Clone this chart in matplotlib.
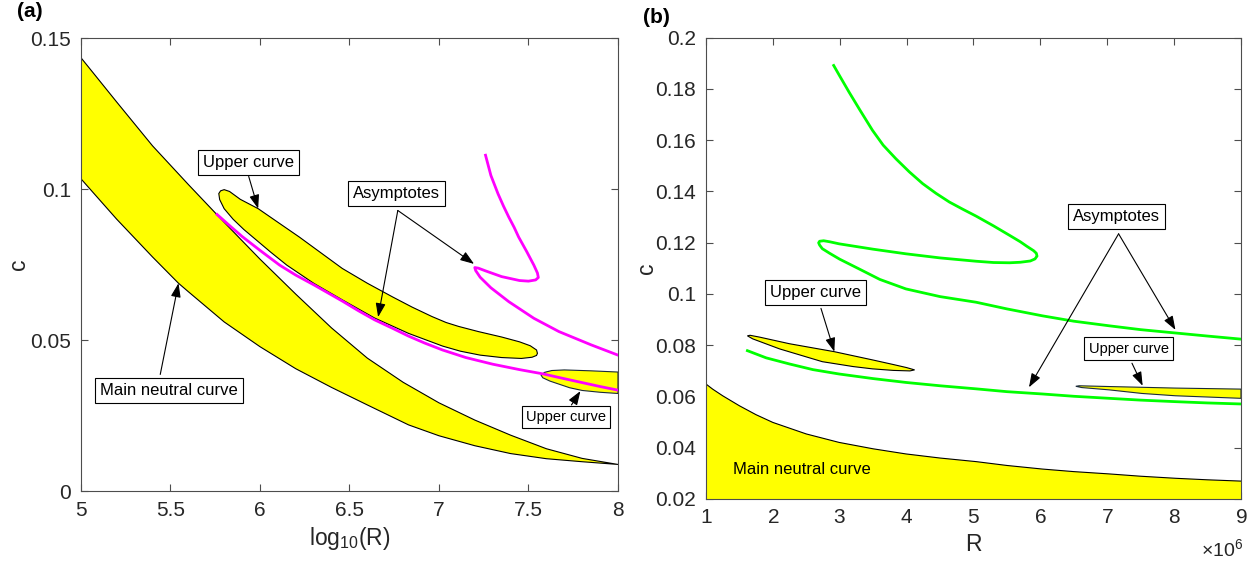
import numpy as np
import matplotlib
matplotlib.use("Agg")
import matplotlib.pyplot as plt
from matplotlib.ticker import ScalarFormatter, FormatStrFormatter

plt.rcParams['font.family'] = ['Liberation Sans', 'DejaVu Sans']
plt.rcParams['mathtext.fontset'] = 'custom'
plt.rcParams['mathtext.rm'] = 'Liberation Sans'
plt.rcParams['mathtext.default'] = 'regular'

AXCOL = '#262626'
SPINE = '#4d4d4d'
YELLOW = '#ffff00'
MAGENTA = '#ff00ff'
GREEN = '#00ff00'

# ---------------------------------------------------------------------------
# (a) c against log10(R)
# ---------------------------------------------------------------------------
a_main_up_x = [5.0, 5.2, 5.4, 5.6, 5.8, 6.0, 6.2, 6.4, 6.6, 6.8, 7.0, 7.2, 7.4, 7.6, 7.8, 8.0]
a_main_up_c = [0.1435, 0.1288, 0.1143, 0.1015, 0.0890, 0.0768, 0.0652, 0.0540,
               0.0440, 0.0360, 0.0292, 0.0235, 0.0185, 0.0140, 0.0108, 0.0088]
a_main_lo_x = [5.0, 5.2, 5.4, 5.545, 5.6, 5.8, 6.0, 6.2, 6.4, 6.6, 6.83, 7.0, 7.2,
               7.4, 7.6, 7.8, 8.0]
a_main_lo_c = [0.1034, 0.0900, 0.0775, 0.0688, 0.0660, 0.0560, 0.0478, 0.0405,
               0.0343, 0.0285, 0.0219, 0.0183, 0.0150, 0.0124, 0.0107, 0.0097, 0.0088]

# first upper-curve island
a_up1_top_x = [5.77, 5.78, 5.80, 5.83, 5.89, 5.99, 6.10, 6.22, 6.34, 6.46, 6.60, 6.74,
               6.85, 6.96, 7.04, 7.11, 7.22, 7.35, 7.45, 7.51, 7.545, 7.55]
a_up1_top_c = [0.0985, 0.0994, 0.0998, 0.0992, 0.0966, 0.0935, 0.0890, 0.0841, 0.0789,
               0.0737, 0.0688, 0.0643, 0.0609, 0.0578, 0.0558, 0.0545, 0.0528, 0.0510,
               0.0494, 0.0481, 0.0467, 0.0456]
a_up1_bot_x = [5.77, 5.775, 5.80, 5.85, 5.91, 5.98, 6.06, 6.15, 6.30, 6.46, 6.64, 6.83,
               7.02, 7.12, 7.23, 7.35, 7.46, 7.52, 7.545]
a_up1_bot_c = [0.0985, 0.0965, 0.0935, 0.0900, 0.0866, 0.0831, 0.0791, 0.0748, 0.0688,
               0.0633, 0.0573, 0.0522, 0.0480, 0.0463, 0.0450, 0.0442, 0.0439, 0.0443,
               0.0449]

# second upper-curve island (cut by the right edge)
a_up2_top_x = [7.57, 7.59, 7.63, 7.70, 7.85, 8.0]
a_up2_top_c = [0.0384, 0.0393, 0.0399, 0.0401, 0.0398, 0.0394]
a_up2_bot_x = [7.57, 7.58, 7.62, 7.67, 7.73, 7.80, 7.90, 8.0]
a_up2_bot_c = [0.0384, 0.0375, 0.0364, 0.0354, 0.0342, 0.0333, 0.0327, 0.0323]

# asymptotes
a_asy1_x = [5.76, 5.83, 5.90, 6.0, 6.11, 6.20, 6.30, 6.46, 6.55, 6.64, 6.74, 6.83,
            6.92, 7.02, 7.15, 7.30, 7.45, 7.58, 7.70, 7.80, 7.90, 8.0]
a_asy1_c = [0.0916, 0.0879, 0.0843, 0.0797, 0.0748, 0.0715, 0.0683, 0.0629, 0.0597,
            0.0567, 0.0539, 0.0513, 0.0490, 0.0467, 0.0442, 0.0420, 0.0402, 0.0388,
            0.0372, 0.0359, 0.0346, 0.0334]
a_asy2_x = [7.26, 7.29, 7.33, 7.36, 7.39, 7.42, 7.445, 7.49, 7.53, 7.55, 7.555, 7.54,
            7.50, 7.45, 7.35, 7.26, 7.22, 7.20, 7.205, 7.23, 7.29, 7.39, 7.53, 7.67,
            7.85, 8.0]
a_asy2_c = [0.1112, 0.1045, 0.0984, 0.0944, 0.0907, 0.0873, 0.0841, 0.0793, 0.0748,
            0.0722, 0.0707, 0.0699, 0.0695, 0.0697, 0.0710, 0.0729, 0.0738, 0.0740,
            0.0730, 0.0708, 0.0673, 0.0627, 0.0572, 0.0528, 0.0484, 0.0450]

a_xticks = [5, 5.5, 6, 6.5, 7, 7.5, 8]
a_yticks = [0, 0.05, 0.1, 0.15]

# ---------------------------------------------------------------------------
# (b) c against R (R in units of 1e6)
# ---------------------------------------------------------------------------
b_main_R = [1.0, 1.1, 1.25, 1.5, 1.75, 2.0, 2.5, 2.99, 3.5, 3.99, 4.5, 5.04, 5.5,
            6.03, 6.5, 7.03, 7.5, 8.02, 8.5, 9.0]
b_main_c = [0.0648, 0.0628, 0.0602, 0.0563, 0.0528, 0.0498, 0.0453, 0.0420, 0.0395,
            0.0375, 0.0359, 0.0345, 0.0330, 0.0316, 0.0306, 0.0297, 0.0288, 0.0280,
            0.0274, 0.0269]

b_up1_top_R = [1.62, 1.66, 1.80, 2.25, 2.92, 3.49, 3.80, 4.0, 4.12]
b_up1_top_c = [0.0836, 0.0838, 0.0831, 0.0805, 0.0774, 0.0742, 0.0724, 0.0712, 0.0703]
b_up1_bot_R = [1.62, 1.70, 2.10, 2.74, 3.20, 3.49, 3.80, 4.05, 4.12]
b_up1_bot_c = [0.0836, 0.0824, 0.0785, 0.0735, 0.0716, 0.0707, 0.0701, 0.0699, 0.0703]

b_up2_top_R = [6.53, 6.58, 7.03, 7.53, 8.02, 9.0]
b_up2_top_c = [0.0639, 0.0641, 0.0638, 0.0635, 0.0632, 0.0628]
b_up2_bot_R = [6.53, 6.62, 7.03, 7.52, 8.02, 9.0]
b_up2_bot_c = [0.0639, 0.0634, 0.0625, 0.0611, 0.0602, 0.0592]

b_asy1_R = [2.91, 3.0, 3.14, 3.3, 3.49, 3.65, 3.84, 4.04, 4.24, 4.44, 4.64, 4.84,
            5.04, 5.30, 5.54, 5.70, 5.80, 5.90, 5.94, 5.95, 5.92, 5.85, 5.70, 5.54,
            5.30, 5.04, 4.5, 3.99, 3.5, 2.99, 2.85, 2.76, 2.70, 2.685, 2.70, 2.74,
            2.85, 3.0, 3.29, 3.6, 3.99, 4.5, 5.04, 5.5, 6.03, 6.5, 7.03, 7.5, 8.02,
            8.5, 9.0]
b_asy1_c = [0.1891, 0.1850, 0.1787, 0.1718, 0.1638, 0.1580, 0.1527, 0.1476, 0.1430,
            0.1392, 0.1358, 0.1330, 0.1303, 0.1265, 0.1228, 0.1203, 0.1185, 0.1168,
            0.1158, 0.1147, 0.1136, 0.1128, 0.1123, 0.1121, 0.1122, 0.1127, 0.1140,
            0.1156, 0.1174, 0.1195, 0.1203, 0.1207, 0.1205, 0.1199, 0.1190, 0.1176,
            0.1158, 0.1135, 0.1097, 0.1056, 0.1019, 0.0989, 0.0967, 0.0941, 0.0914,
            0.0893, 0.0875, 0.0860, 0.0847, 0.0835, 0.0823]
b_asy2_R = [1.62, 1.9, 2.25, 2.6, 2.99, 3.5, 3.99, 4.5, 5.04, 5.5, 6.03, 6.5, 7.03,
            7.5, 8.02, 8.5, 9.0]
b_asy2_c = [0.0778, 0.0750, 0.0726, 0.0704, 0.0687, 0.0669, 0.0654, 0.0641, 0.0629,
            0.0618, 0.0609, 0.0600, 0.0592, 0.0585, 0.0579, 0.0574, 0.0570]

b_xticks = [1, 2, 3, 4, 5, 6, 7, 8, 9]
b_yticks = [0.02, 0.04, 0.06, 0.08, 0.1, 0.12, 0.14, 0.16, 0.18, 0.2]

MEGA = 1e6


def island(top_x, top_c, bot_x, bot_c):
    """Closed outline: top edge left->right, bottom edge right->left."""
    xs = list(top_x) + list(bot_x)[::-1]
    cs = list(top_c) + list(bot_c)[::-1]
    return xs, cs


def style_axes(ax):
    for s in ax.spines.values():
        s.set_color(SPINE)
        s.set_linewidth(0.8)
    ax.tick_params(direction='in', top=True, right=True, length=5, width=0.8,
                   color=SPINE, labelcolor=AXCOL, labelsize=15, pad=7)


def boxed(ax, x, y, s, size=12):
    ax.text(x, y, s, ha='center', va='center', fontsize=size, color='black',
            bbox=dict(boxstyle='square,pad=0.3', fc='white', ec='black', lw=0.8),
            zorder=6)


def arrow(ax, start, tip):
    ax.annotate('', xy=tip, xytext=start,
                arrowprops=dict(arrowstyle='-|>,head_length=0.7,head_width=0.25',
                                color='black', lw=0.8, shrinkA=0, shrinkB=0,
                                mutation_scale=12),
                zorder=7)


fig = plt.figure(figsize=(12.51, 5.62), dpi=100)
ax_a = fig.add_axes([0.0647, 0.1263, 0.4293, 0.806])
ax_b = fig.add_axes([0.5643, 0.1125, 0.4277, 0.8207])

# ---- panel (a) ----
xs, cs = island(a_main_up_x, a_main_up_c, a_main_lo_x, a_main_lo_c)
ax_a.fill(xs, cs, facecolor=YELLOW, edgecolor='black', lw=0.8, zorder=2)
xs, cs = island(a_up1_top_x, a_up1_top_c, a_up1_bot_x, a_up1_bot_c)
ax_a.fill(xs, cs, facecolor=YELLOW, edgecolor='black', lw=0.8, zorder=2)
xs, cs = island(a_up2_top_x, a_up2_top_c, a_up2_bot_x, a_up2_bot_c)
ax_a.fill(xs, cs, facecolor=YELLOW, edgecolor='#1a2a3a', lw=0.8, zorder=2)
ax_a.plot(a_asy1_x, a_asy1_c, color=MAGENTA, lw=2, zorder=3)
ax_a.plot(a_asy2_x, a_asy2_c, color=MAGENTA, lw=2, zorder=3)

ax_a.set_xlim(5, 8)
ax_a.set_ylim(0, 0.15)
ax_a.set_xticks(a_xticks)
ax_a.set_yticks(a_yticks)
ax_a.xaxis.set_major_formatter(FormatStrFormatter('%g'))
ax_a.yaxis.set_major_formatter(FormatStrFormatter('%g'))
style_axes(ax_a)
ax_a.set_xlabel('log$_{10}$(R)', fontsize=16.5, color=AXCOL, labelpad=4)
ax_a.set_ylabel('c', fontsize=16.5, color=AXCOL, va='center')
ax_a.yaxis.set_label_coords(-0.117, 0.5)

boxed(ax_a, 5.935, 0.1089, 'Upper curve')
arrow(ax_a, (5.937, 0.1042), (5.99, 0.0935))
boxed(ax_a, 6.76, 0.0984, 'Asymptotes')
arrow(ax_a, (6.77, 0.0929), (7.196, 0.0752))
arrow(ax_a, (6.77, 0.0929), (6.66, 0.0576))
boxed(ax_a, 5.49, 0.0334, 'Main neutral curve')
arrow(ax_a, (5.443, 0.0386), (5.545, 0.0688))
boxed(ax_a, 7.71, 0.0245, 'Upper curve', size=10.5)
arrow(ax_a, (7.74, 0.0285), (7.79, 0.0331))

# ---- panel (b) ----
Rm = np.array(b_main_R) * MEGA
ax_b.fill_between(Rm, 0, b_main_c, facecolor=YELLOW, edgecolor='none', zorder=2)
ax_b.plot(Rm, b_main_c, color='black', lw=0.8, zorder=2)
xs, cs = island(b_up1_top_R, b_up1_top_c, b_up1_bot_R, b_up1_bot_c)
ax_b.fill(np.array(xs) * MEGA, cs, facecolor=YELLOW, edgecolor='black', lw=0.8, zorder=2)
xs, cs = island(b_up2_top_R, b_up2_top_c, b_up2_bot_R, b_up2_bot_c)
ax_b.fill(np.array(xs) * MEGA, cs, facecolor=YELLOW, edgecolor='#1a2a3a', lw=0.8, zorder=2)
ax_b.plot(np.array(b_asy1_R) * MEGA, b_asy1_c, color=GREEN, lw=2, zorder=3)
ax_b.plot(np.array(b_asy2_R) * MEGA, b_asy2_c, color=GREEN, lw=2, zorder=3)

ax_b.set_xlim(1 * MEGA, 9 * MEGA)
ax_b.set_ylim(0.02, 0.2)
ax_b.set_xticks(np.array(b_xticks) * MEGA)
ax_b.set_yticks(b_yticks)
fmt = ScalarFormatter(useMathText=True)
fmt.set_powerlimits((-3, 3))
ax_b.xaxis.set_major_formatter(fmt)
ax_b.yaxis.set_major_formatter(FormatStrFormatter('%g'))
style_axes(ax_b)
# exponent label drawn by hand, lower right under the axis
ax_b.xaxis.get_offset_text().set_visible(False)
fig.text(0.9935, 0.022, '×10$^{6}$', fontsize=14, color=AXCOL, ha='right', va='center')
ax_b.set_xlabel('R', fontsize=16.5, color=AXCOL, labelpad=4)
ax_b.set_ylabel('c', fontsize=16.5, color=AXCOL, va='center')
ax_b.yaxis.set_label_coords(-0.112, 0.5)

boxed(ax_b, 2.642 * MEGA, 0.1006, 'Upper curve')
arrow(ax_b, (2.72 * MEGA, 0.0943), (2.92 * MEGA, 0.0774))
boxed(ax_b, 7.32 * MEGA, 0.0785, 'Upper curve', size=10.5)
arrow(ax_b, (7.37 * MEGA, 0.0729), (7.53 * MEGA, 0.0641))
boxed(ax_b, 7.14 * MEGA, 0.1301, 'Asymptotes')
arrow(ax_b, (7.17 * MEGA, 0.1234), (8.02 * MEGA, 0.0859))
arrow(ax_b, (7.17 * MEGA, 0.1234), (5.83 * MEGA, 0.0635))
ax_b.text(1.40 * MEGA, 0.0316, 'Main neutral curve', ha='left', va='center',
          fontsize=12, color='black', zorder=6)

fig.text(0.024, 0.979, '(a)', fontsize=15, fontweight='bold', ha='center', va='center')
fig.text(0.525, 0.968, '(b)', fontsize=15, fontweight='bold', ha='center', va='center')

fig.savefig('out.png', dpi=100)
